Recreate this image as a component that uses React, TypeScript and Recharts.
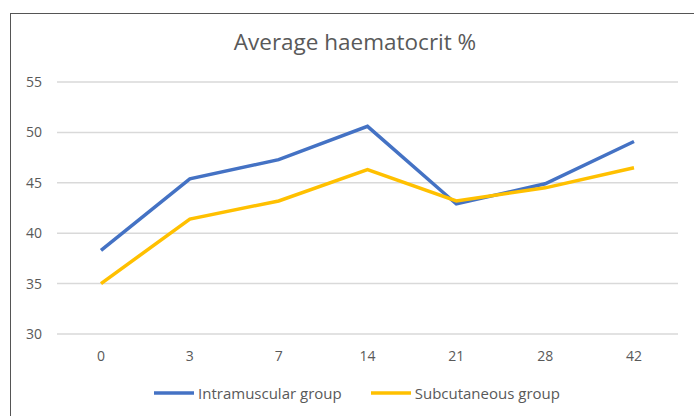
import React from "react";
import { LineChart, Line, XAxis, YAxis, CartesianGrid, Legend } from "recharts";

const days = ["0", "3", "7", "14", "21", "28", "42"];
const intramuscular = [38.3, 45.4, 47.3, 50.6, 42.9, 44.9, 49.1];
const subcutaneous = [35.0, 41.4, 43.2, 46.3, 43.2, 44.5, 46.5];
const yTicks = [30, 35, 40, 45, 50, 55];

const data = days.map((d, i) => ({
  day: d,
  im: intramuscular[i],
  sc: subcutaneous[i],
}));

const FONT = "'Open Sans', sans-serif";
const TEXT = "#595959";

const renderLegend = (props: any) => {
  const { payload } = props;
  return (
    <div
      style={{
        display: "flex",
        justifyContent: "center",
        alignItems: "center",
        height: 30,
        fontFamily: FONT,
        fontSize: 15,
        color: TEXT,
      }}
    >
      {payload.map((entry: any, idx: number) => (
        <div
          key={entry.value}
          style={{ display: "flex", alignItems: "center", marginLeft: idx === 0 ? 0 : 29 }}
        >
          <svg width={40} height={6} style={{ display: "block" }}>
            <line x1={0} y1={3} x2={40} y2={3} stroke={entry.color} strokeWidth={3.5} />
          </svg>
          <span style={{ marginLeft: 4 }}>{entry.value}</span>
        </div>
      ))}
    </div>
  );
};

export default function App() {
  return (
    <div style={{ position: "absolute", left: 0, top: 0, width: 694, height: 416, background: "#fff", overflow: "hidden" }}>
      <div
        style={{
          position: "absolute",
          left: 10,
          top: 13,
          width: 700,
          height: 420,
          borderLeft: "1.5px solid #555",
          borderTop: "1.5px solid #555",
          boxSizing: "border-box",
        }}
      />
      <div
        style={{
          position: "absolute",
          left: 0,
          top: 26,
          width: 710,
          textAlign: "center",
          fontFamily: FONT,
          fontSize: 22.5,
          color: TEXT,
        }}
      >
        Average haematocrit %
      </div>
      <LineChart
        width={694}
        height={416}
        data={data}
        margin={{ top: 82, right: 16, bottom: 0, left: 0 }}
        style={{ position: "absolute", left: 0, top: 0 }}
      >
        <CartesianGrid vertical={false} stroke="#d9d9d9" strokeWidth={1.5} />
        <XAxis
          dataKey="day"
          axisLine={false}
          tickLine={false}
          tickSize={0}
          tickMargin={17}
          height={52}
          padding={{ left: 44, right: 44 }}
          tick={{ fill: TEXT, fontSize: 14, fontFamily: FONT }}
        />
        <YAxis
          domain={[30, 55]}
          ticks={yTicks}
          axisLine={false}
          tickLine={false}
          tickSize={0}
          tickMargin={15}
          width={57}
          tick={{ fill: TEXT, fontSize: 14, fontFamily: FONT }}
        />
        <Legend
          verticalAlign="bottom"
          content={renderLegend}
          wrapperStyle={{ left: 10, width: 694, top: 378, height: 30 }}
        />
        <Line
          type="linear"
          dataKey="im"
          name="Intramuscular group"
          stroke="#4472C4"
          strokeWidth={3.5}
          dot={false}
          isAnimationActive={false}
        />
        <Line
          type="linear"
          dataKey="sc"
          name="Subcutaneous group"
          stroke="#FFC000"
          strokeWidth={3.5}
          dot={false}
          isAnimationActive={false}
        />
      </LineChart>
    </div>
  );
}
